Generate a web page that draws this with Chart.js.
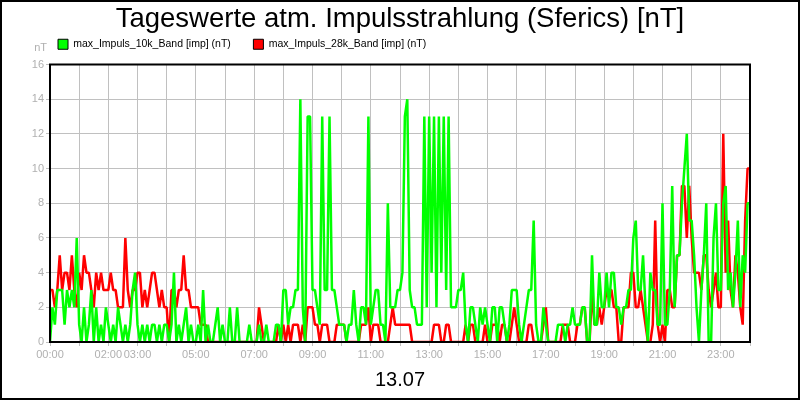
<!DOCTYPE html>
<html>
<head>
<meta charset="utf-8">
<title>Tageswerte atm. Impulsstrahlung</title>
<script src="https://cdn.jsdelivr.net/npm/chart.js@4"></script>
<style>
  body { margin: 0; background: #fff; }
  canvas { display: block; }
</style>
</head>
<body>
<canvas id="sfericsChart" width="800" height="400"></canvas>
<script>
// one value every 5 minutes, 00:00 .. 24:00
const stepMinutes = 5;

const tickHours  = [0, 2, 3, 5, 7, 9, 11, 13, 15, 17, 19, 21, 23];
const tickLabels = ['00:00', '02:00', '03:00', '05:00', '07:00', '09:00', '11:00',
                    '13:00', '15:00', '17:00', '19:00', '21:00', '23:00'];

const band10k = [
    0, 2, 1, 3, 3, 3, 1, 3, 2, 3, 2, 6,       // 00
    1, 0, 2, 0, 1, 3, 0, 2, 0, 1, 0, 2,       // 01
    1, 0, 1, 0, 2, 1, 0, 1, 0, 1, 3, 4,       // 02
    1, 0, 1, 0, 1, 0, 1, 1, 0, 1, 0, 1,       // 03
    1, 0, 1, 4, 0, 1, 0, 1, 2, 0, 1, 0,       // 04
    0, 1, 0, 3, 0, 1, 0, 0, 1, 2, 0, 1,       // 05
    0, 0, 2, 0, 0, 2, 0, 0, 0, 0, 1, 0,       // 06
    0, 0, 1, 0, 0, 1, 0, 0, 0, 1, 1, 0,       // 07
    3, 3, 1, 2, 2, 3, 3, 14, 2, 0, 13, 13,    // 08
    3, 3, 2, 1, 13, 3, 3, 13, 3, 3, 2, 1,     // 09
    1, 1, 0, 1, 1, 3, 1, 0, 2, 2, 1, 13,      // 10
    1, 2, 3, 3, 1, 1, 0, 8, 2, 2, 2, 3,       // 11
    3, 4, 13, 14, 3, 2, 2, 1, 1, 1, 13, 2,    // 12
    13, 4, 13, 2, 13, 4, 13, 3, 13, 2, 2, 2,  // 13
    3, 3, 4, 1, 0, 2, 2, 1, 0, 2, 1, 2,       // 14
    1, 0, 2, 2, 0, 2, 2, 1, 0, 1, 3, 3,       // 15
    3, 1, 0, 1, 2, 3, 3, 7, 1, 0, 0, 2,       // 16
    1, 0, 0, 0, 0, 1, 1, 1, 0, 1, 1, 2,       // 17
    1, 1, 1, 2, 2, 0, 0, 5, 1, 1, 4, 2,       // 18
    2, 4, 2, 4, 4, 2, 2, 1, 2, 2, 3, 3,       // 19
    6, 7, 3, 3, 5, 2, 0, 4, 3, 3, 1, 1,       // 20
    8, 1, 1, 3, 9, 2, 5, 5, 8, 10, 12, 7,     // 21
    7, 5, 2, 0, 3, 5, 8, 0, 0, 6, 8, 3,       // 22
    3, 8, 9, 3, 4, 2, 4, 7, 2, 5, 4, 8, 8     // 23
];

const band28k = [
    3, 3, 2, 3, 5, 3, 4, 4, 3, 5, 3, 2,       // 00
    4, 3, 5, 4, 4, 3, 2, 4, 3, 4, 3, 3,       // 01
    3, 4, 3, 3, 2, 2, 2, 6, 3, 2, 3, 3,       // 02
    4, 4, 2, 3, 2, 3, 4, 4, 3, 2, 3, 2,       // 03
    2, 0, 3, 3, 2, 3, 3, 5, 3, 3, 2, 2,       // 04
    2, 2, 1, 1, 1, 0, 0, 0, 0, 0, 0, 0,       // 05
    0, 0, 0, 0, 0, 0, 0, 0, 0, 0, 0, 0,       // 06
    0, 0, 2, 1, 0, 0, 0, 0, 0, 0, 1, 0,       // 07
    1, 0, 1, 0, 1, 1, 1, 0, 1, 0, 2, 2,       // 08
    2, 1, 1, 0, 1, 1, 1, 0, 0, 0, 1, 1,       // 09
    1, 1, 0, 0, 0, 0, 0, 0, 1, 1, 1, 2,       // 10
    0, 1, 1, 1, 0, 0, 0, 0, 1, 2, 1, 1,       // 11
    1, 1, 1, 1, 1, 0, 0, 0, 0, 0, 0, 0,       // 12
    0, 0, 1, 1, 1, 0, 0, 1, 1, 0, 0, 0,       // 13
    0, 0, 0, 1, 0, 1, 1, 0, 0, 0, 0, 1,       // 14
    0, 0, 1, 1, 1, 0, 1, 1, 0, 0, 1, 2,       // 15
    1, 0, 0, 0, 0, 1, 1, 0, 0, 0, 0, 1,       // 16
    2, 0, 0, 0, 0, 0, 0, 1, 1, 1, 0, 0,       // 17
    0, 1, 1, 2, 2, 0, 0, 3, 1, 1, 2, 1,       // 18
    2, 3, 3, 3, 2, 2, 0, 0, 2, 2, 2, 4,       // 19
    4, 2, 2, 3, 2, 1, 0, 0, 1, 7, 1, 0,       // 20
    1, 0, 3, 3, 2, 2, 5, 5, 9, 9, 6, 9,       // 21
    6, 4, 4, 4, 3, 5, 5, 3, 2, 3, 4, 2,       // 22
    2, 12, 4, 7, 3, 2, 5, 4, 2, 1, 7, 10, 10  // 23
];

const seriesNames = ['max_Impuls_10k_Band [imp] (nT)', 'max_Impuls_28k_Band [imp] (nT)'];
const seriesColors = ['#00ff00', '#ff0000'];
const chartTitle = 'Tageswerte atm. Impulsstrahlung (Sferics) [nT]';
const dayLabel = '13.07';
const unitLabel = 'nT';

Chart.defaults.font.family = '"Liberation Sans", Arial, sans-serif';

function toPoints(values) {
    return values.map((v, i) => ({ x: i * stepMinutes, y: v }));
}

function makeDataset(i, values) {
    return {
        label: seriesNames[i],
        data: toPoints(values),
        borderColor: seriesColors[i],
        backgroundColor: seriesColors[i],
        borderWidth: 2.5,
        borderJoinStyle: 'bevel',
        pointRadius: 0,
        tension: 0,
        fill: false
    };
}

// black frame round the picture and round the plot, plus the unit label
const framePlugin = {
    id: 'frame',
    beforeDraw(chart) {
        const ctx = chart.ctx;
        ctx.save();
        ctx.fillStyle = '#fff';
        ctx.fillRect(0, 0, chart.width, chart.height);
        ctx.restore();
    },
    afterDraw(chart) {
        const ctx = chart.ctx;
        const a = chart.chartArea;
        ctx.save();
        ctx.strokeStyle = '#000';
        ctx.lineWidth = 2;
        ctx.strokeRect(1, 1, chart.width - 2, chart.height - 2);
        ctx.strokeRect(a.left, a.top, a.right - a.left, a.bottom - a.top);
        ctx.fillStyle = '#b0b0b0';
        ctx.font = '11px "Liberation Sans", Arial, sans-serif';
        ctx.textAlign = 'right';
        ctx.textBaseline = 'middle';
        ctx.fillText(unitLabel, a.left - 3, a.top - 17);
        ctx.restore();
    }
};

const ctx = document.getElementById('sfericsChart').getContext('2d');

const sfericsChart = new Chart(ctx, {
    type: 'line',
    data: {
        datasets: [makeDataset(0, band10k), makeDataset(1, band28k)]
    },
    options: {
        responsive: false,
        animation: false,
        layout: { padding: 0 },
        plugins: {
            title: {
                display: true,
                text: chartTitle,
                color: '#000',
                font: { size: 27.5, weight: 'normal', lineHeight: 1 },
                padding: { top: 6, bottom: -2.5 }
            },
            subtitle: {
                // spacer between legend and plot
                display: true,
                text: '',
                weight: 500,
                font: { size: 5, lineHeight: 1 },
                padding: 0
            },
            legend: {
                position: 'top',
                align: 'start',
                fullSize: false,
                labels: {
                    color: '#000',
                    boxWidth: 10,
                    boxHeight: 10,
                    padding: 8,
                    font: { size: 10.5 },
                    generateLabels(chart) {
                        const items = Chart.defaults.plugins.legend.labels.generateLabels(chart);
                        items.forEach((item, i) => {
                            item.strokeStyle = '#000';
                            item.lineWidth = 1;
                            if (i < items.length - 1) item.text += '\u00a0\u00a0\u00a0\u00a0\u00a0';
                        });
                        return items;
                    }
                }
            },
            tooltip: { enabled: false }
        },
        scales: {
            x: {
                type: 'linear',
                min: 0,
                max: 24 * 60,
                afterFit(scale) { scale.height = 58; },
                grid: { color: '#c0c0c0', tickLength: 4 },
                border: { color: '#000', width: 2 },
                ticks: {
                    stepSize: 60,
                    autoSkip: false,
                    maxRotation: 0,
                    padding: 2,
                    color: '#b0b0b0',
                    font: { size: 11 },
                    callback(value) {
                        const k = tickHours.indexOf(value / 60);
                        return k >= 0 ? tickLabels[k] : '';
                    }
                },
                title: {
                    display: true,
                    text: dayLabel,
                    color: '#000',
                    font: { size: 20 },
                    padding: { top: 0, bottom: 8 }
                }
            },
            y: {
                min: 0,
                max: 16,
                afterFit(scale) { scale.width = 50; },
                grid: { color: '#c0c0c0', tickLength: 4 },
                border: { color: '#000', width: 2 },
                ticks: {
                    stepSize: 2,
                    padding: 2,
                    color: '#b0b0b0',
                    font: { size: 11 }
                }
            },
            // empty right margin so the plot ends at the same place as the original
            yRight: {
                position: 'right',
                afterFit(scale) { scale.width = 50; },
                grid: { display: false },
                border: { display: false },
                ticks: { display: false }
            }
        }
    },
    plugins: [framePlugin]
});
</script>
</body>
</html>
